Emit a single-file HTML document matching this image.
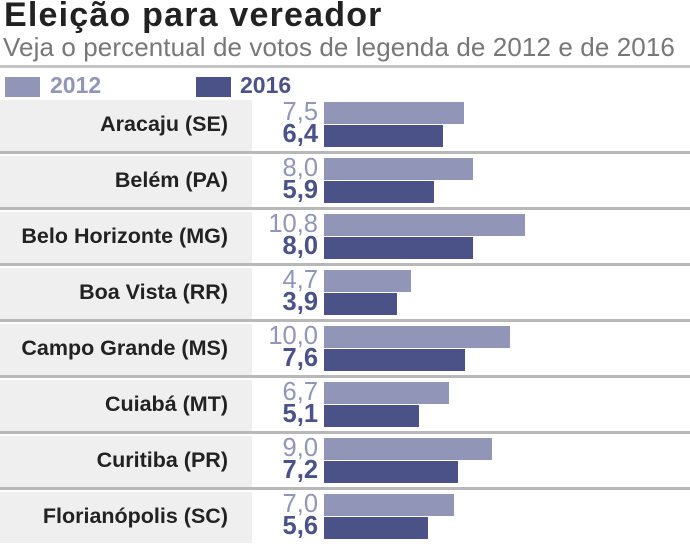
<!DOCTYPE html>
<html><head><meta charset="utf-8"><style>
body{margin:0;width:690px;height:554px;background:#fff;overflow:hidden;font-family:"Liberation Sans",sans-serif;position:relative}
#title{position:absolute;left:4px;top:-4px;font-size:34px;font-weight:bold;color:#222;letter-spacing:1.2px;white-space:nowrap}
#sub{position:absolute;left:3px;top:32px;font-size:26px;color:#777;white-space:nowrap;letter-spacing:0.1px}
.hl{position:absolute;left:0;width:690px;height:3px;background:#c4c4c4}
.sw{position:absolute;top:77px;width:35px;height:20px}
.lt{position:absolute;top:72px;font-size:23px;font-weight:bold}
</style></head><body>
<div id="title">Eleição para vereador</div>
<div id="sub">Veja o percentual de votos de legenda de 2012 e de 2016</div>
<div class="hl" style="top:65px"></div>
<div class="sw" style="left:5px;background:#9196b8"></div>
<div class="lt" style="left:50px;color:#9196b8">2012</div>
<div class="sw" style="left:196px;background:#4a5288"></div>
<div class="lt" style="left:240px;color:#4a5288">2016</div>
<div id="chart"></div>
<script>
const cities=["Aracaju (SE)","Belém (PA)","Belo Horizonte (MG)","Boa Vista (RR)","Campo Grande (MS)","Cuiabá (MT)","Curitiba (PR)","Florianópolis (SC)"];
const v2012=[7.5,8.0,10.8,4.7,10.0,6.7,9.0,7.0];
const v2016=[6.4,5.9,8.0,3.9,7.6,5.1,7.2,5.6];
const x0=324,scale=201/10.8,top0=100,pitch=56;
const xs=v=>v*scale;
const fmt=v=>v.toFixed(1).replace('.',',');
const c=document.getElementById('chart');
function mk(css,txt){const d=document.createElement('div');d.style.cssText='position:absolute;'+css;if(txt!==undefined)d.textContent=txt;c.appendChild(d);return d;}
cities.forEach((name,i)=>{
  const t=top0+i*pitch;
  const bg=mk(`left:0;top:${t}px;width:252px;height:51px;background:#efefef`);
  
  
  const lb=mk(`left:0;top:${t+12}px;width:228px;text-align:right;font-size:21.5px;font-weight:bold;color:#222;white-space:nowrap`,name);
  
  
  const b1=mk(`left:${x0}px;top:${t+2}px;width:${xs(v2012[i])}px;height:22px;background:#9196b8`);
  
  
  const b2=mk(`left:${x0}px;top:${t+25}px;width:${xs(v2016[i])}px;height:22px;background:#4a5288`);
  
  
  const l1=mk(`left:240px;width:78px;text-align:right;top:${t-2}px;font-size:25.5px;line-height:28px;color:#9196b8`,fmt(v2012[i]));
  
  
  const l2=mk(`left:240px;width:78px;text-align:right;top:${t+20}px;font-size:25.5px;line-height:28px;font-weight:bold;color:#4a5288`,fmt(v2016[i]));
  
  
  if(i<cities.length-1){
    const s=mk(`left:0;top:${t+51}px;width:690px;height:3px;background:#b8b8b8`);
    
    
  }
});
</script>
</body></html>
